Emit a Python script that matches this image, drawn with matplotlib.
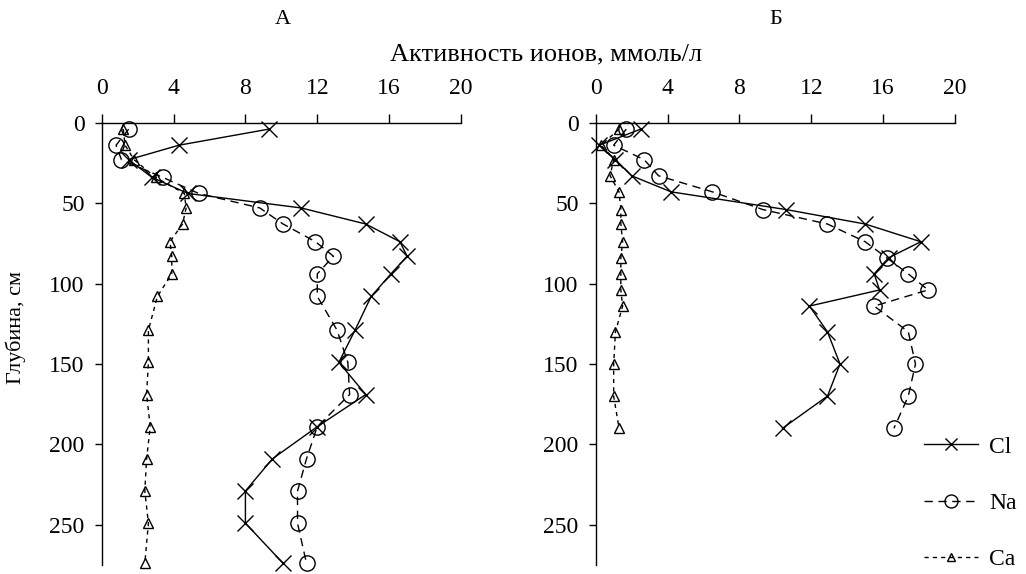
import matplotlib
matplotlib.use("Agg")
import matplotlib.pyplot as plt
from matplotlib.lines import Line2D

plt.rcParams['font.family'] = ['Liberation Serif', 'DejaVu Serif']

# ---- data ----
depth_a = [4, 14, 23, 34, 44, 53, 63, 74, 83, 94, 108, 129, 149, 169, 189, 209, 229, 249, 274]
cl_a = [9.3, 4.3, 1.5, 2.8, 4.8, 11.1, 14.7, 16.6, 17.0, 16.1, 15.0, 14.1, 13.2, 14.7, 12.0, 9.5, 8.0, 8.0, 10.1]
na_a = [1.5, 0.8, 1.1, 3.4, 5.4, 8.8, 10.1, 11.9, 12.9, 12.0, 12.0, 13.1, 13.7, 13.8, 12.0, 11.4, 10.9, 10.9, 11.4]
ca_a = [1.2, 1.3, 1.8, 3.0, 4.6, 4.7, 4.5, 3.8, 3.9, 3.9, 3.1, 2.6, 2.6, 2.5, 2.7, 2.5, 2.4, 2.6, 2.4]

depth_b = [4, 14, 23, 33, 43, 54, 63, 74, 84, 94, 104, 114, 130, 150, 170, 190]
cl_b = [2.5, 0.2, 1.1, 2.0, 4.2, 10.6, 15.0, 18.1, 16.3, 15.5, 15.8, 11.9, 12.9, 13.6, 12.9, 10.4]
na_b = [1.7, 1.0, 2.7, 3.5, 6.5, 9.3, 12.9, 15.0, 16.2, 17.4, 18.5, 15.5, 17.4, 17.8, 17.4, 16.6]
ca_b = [1.3, 0.3, 1.0, 0.8, 1.3, 1.4, 1.4, 1.5, 1.4, 1.4, 1.4, 1.5, 1.1, 1.0, 1.0, 1.3]

x_ticks = [0, 4, 8, 12, 16, 20]
y_ticks = [0, 50, 100, 150, 200, 250]
panel_titles = ["А", "Б"]
series_names = ["Cl", "Na", "Ca"]
x_label = "Активность ионов, ммоль/л"
y_label = "Глубина, см"

# ---- styles ----
styles = {
    "Cl": dict(color="black", lw=1.0, ls="-", marker="x", ms=11, mew=1.0),
    "Na": dict(color="black", lw=1.0, ls=(0, (6, 4)), marker="o", ms=11, mfc="none", mew=1.0),
    "Ca": dict(color="black", lw=1.0, ls=(0, (3, 3)), marker="^", ms=7, mfc="none", mew=1.0),
}

fig = plt.figure(figsize=(10.26, 5.74), dpi=100)
W, H = 1026, 574
ax_top, ax_bot = 122.7, 565.0
axes = [
    fig.add_axes([101.7 / W, 1 - ax_bot / H, 359.3 / W, (ax_bot - ax_top) / H]),
    fig.add_axes([595.7 / W, 1 - ax_bot / H, 359.3 / W, (ax_bot - ax_top) / H]),
]

data = [
    (depth_a, {"Cl": cl_a, "Na": na_a, "Ca": ca_a}),
    (depth_b, {"Cl": cl_b, "Na": na_b, "Ca": ca_b}),
]

for ax, (depth, vals), title in zip(axes, data, panel_titles):
    for name in series_names:
        ax.plot(vals[name], depth, clip_on=False, **styles[name])
    ax.set_xlim(0, 20)
    ax.set_ylim(275, 0)
    ax.set_xticks(x_ticks)
    ax.set_yticks(y_ticks)
    ax.xaxis.tick_top()
    ax.spines['right'].set_visible(False)
    ax.spines['bottom'].set_visible(False)
    for sp in ('left', 'top'):
        ax.spines[sp].set_linewidth(1.0)
    ax.tick_params(axis='x', direction='out', length=6.3, width=1.0, pad=11, labelsize=17)
    ax.tick_params(axis='y', direction='out', length=5.3, width=1.0, pad=7, labelsize=17)
    ax.patch.set_visible(False)

# titles and labels
fig.text(283 / W, 1 - 20 / H, panel_titles[0], ha='center', va='center', fontsize=16)
fig.text(776 / W, 1 - 20 / H, panel_titles[1], ha='center', va='center', fontsize=16)
fig.text(546 / W, 1 - 54 / H, x_label, ha='center', va='center', fontsize=19)
fig.text(16 / W, 1 - 328 / H, y_label, ha='center', va='center', rotation=90, fontsize=16)

handles = [Line2D([], [], **styles[n]) for n in series_names]
fig.legend(handles, series_names, loc='upper left',
           bbox_to_anchor=(924 / W, 1 - 436 / H), frameon=False,
           fontsize=17, handlelength=2.3, handletextpad=0.45, markerscale=0.85,
           labelspacing=1.48, borderpad=0, borderaxespad=0)

fig.savefig("out.png", dpi=100)
